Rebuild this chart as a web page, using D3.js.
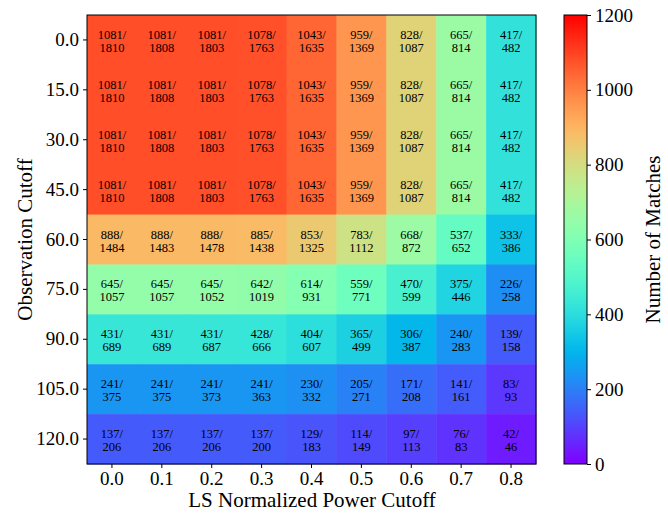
<!DOCTYPE html>
<html>
<head>
<meta charset="utf-8">
<script src="https://cdn.jsdelivr.net/npm/d3@7"></script>
<style>
  body { margin: 0; background: #fff; }
  svg text { font-family: "Liberation Serif", "DejaVu Serif", serif; fill: #000; }
</style>
</head>
<body>
<script>
// LS cutoffs (columns) and observation cutoffs (rows)
const lsCutoffs = ["0.0", "0.1", "0.2", "0.3", "0.4", "0.5", "0.6", "0.7", "0.8"];
const obsCutoffs = ["0.0", "15.0", "30.0", "45.0", "60.0", "75.0", "90.0", "105.0", "120.0"];

// matches / total, one array per row
const matches = [
    [1081, 1081, 1081, 1078, 1043, 959, 828, 665, 417],
    [1081, 1081, 1081, 1078, 1043, 959, 828, 665, 417],
    [1081, 1081, 1081, 1078, 1043, 959, 828, 665, 417],
    [1081, 1081, 1081, 1078, 1043, 959, 828, 665, 417],
    [888, 888, 888, 885, 853, 783, 668, 537, 333],
    [645, 645, 645, 642, 614, 559, 470, 375, 226],
    [431, 431, 431, 428, 404, 365, 306, 240, 139],
    [241, 241, 241, 241, 230, 205, 171, 141, 83],
    [137, 137, 137, 137, 129, 114, 97, 76, 42]
];
const totals = [
    [1810, 1808, 1803, 1763, 1635, 1369, 1087, 814, 482],
    [1810, 1808, 1803, 1763, 1635, 1369, 1087, 814, 482],
    [1810, 1808, 1803, 1763, 1635, 1369, 1087, 814, 482],
    [1810, 1808, 1803, 1763, 1635, 1369, 1087, 814, 482],
    [1484, 1483, 1478, 1438, 1325, 1112, 872, 652, 386],
    [1057, 1057, 1052, 1019, 931, 771, 599, 446, 258],
    [689, 689, 687, 666, 607, 499, 387, 283, 158],
    [375, 375, 373, 363, 332, 271, 208, 161, 93],
    [206, 206, 206, 200, 183, 149, 113, 83, 46]
];
const colorTicks = [0, 200, 400, 600, 800, 1000, 1200];

// matplotlib "rainbow"
function rainbow(t) {
    const r = Math.min(1, Math.abs(2 * t - 0.5));
    const g = Math.sin(Math.PI * t);
    const b = Math.cos(Math.PI * t / 2);
    return d3.rgb(r * 255, g * 255, b * 255).formatHex();
}

const W = 668, H = 514;
const plotLeft = 87, plotTop = 15, size = 449;
const serif = "'Liberation Serif', 'DejaVu Serif', serif";

const svg = d3.select("body").append("svg")
    .attr("width", W)
    .attr("height", H);

const x = d3.scaleBand().domain(lsCutoffs).range([plotLeft, plotLeft + size]);
const y = d3.scaleBand().domain(obsCutoffs).range([plotTop, plotTop + size]);
const colorNorm = d3.scaleLinear().domain([0, 1200]).range([0, 1]).clamp(true);

const cells = [];
obsCutoffs.forEach((o, i) => {
    lsCutoffs.forEach((l, j) => {
        cells.push({ obs: o, ls: l, m: matches[i][j], t: totals[i][j] });
    });
});

svg.append("g").selectAll("rect")
    .data(cells)
    .enter()
    .append("rect")
        .attr("x", d => x(d.ls))
        .attr("y", d => y(d.obs))
        .attr("width", x.bandwidth() + 0.5)
        .attr("height", y.bandwidth() + 0.5)
        .attr("fill", d => rainbow(colorNorm(d.m)));

const labels = svg.append("g").selectAll("text")
    .data(cells)
    .enter()
    .append("text")
        .attr("text-anchor", "middle")
        .style("font-size", "12.5px");
labels.append("tspan")
    .attr("x", d => x(d.ls) + x.bandwidth() / 2)
    .attr("y", d => y(d.obs) + y.bandwidth() / 2 - 1)
    .text(d => d.m + "/");
labels.append("tspan")
    .attr("x", d => x(d.ls) + x.bandwidth() / 2)
    .attr("y", d => y(d.obs) + y.bandwidth() / 2 + 12)
    .text(d => d.t);

// frame
svg.append("rect")
    .attr("x", plotLeft).attr("y", plotTop)
    .attr("width", size).attr("height", size)
    .attr("fill", "none").attr("stroke", "#000").attr("stroke-width", 1);

const xAxis = svg.append("g")
    .attr("transform", "translate(0," + (plotTop + size) + ")")
    .call(d3.axisBottom(x).tickSize(4).tickPadding(4));
const yAxis = svg.append("g")
    .attr("transform", "translate(" + plotLeft + ",0)")
    .call(d3.axisLeft(y).tickSize(4).tickPadding(4));
[xAxis, yAxis].forEach(a => {
    a.attr("font-family", null);
    a.select(".domain").remove();
    a.selectAll("text").style("font-size", "19px").style("font-family", serif);
});

svg.append("text")
    .attr("x", 312)
    .attr("y", 507)
    .attr("text-anchor", "middle")
    .style("font-size", "21px")
    .text("LS Normalized Power Cutoff");

svg.append("text")
    .attr("transform", "translate(32," + (plotTop + size / 2) + ") rotate(-90)")
    .attr("text-anchor", "middle")
    .style("font-size", "21px")
    .text("Observation Cutoff");

// colorbar
const cbLeft = 564, cbW = 23;
const cy = d3.scaleLinear().domain([0, 1200]).range([plotTop + size, plotTop]);
const defs = svg.append("defs");
const grad = defs.append("linearGradient")
    .attr("id", "cbgrad")
    .attr("x1", 0).attr("y1", 1).attr("x2", 0).attr("y2", 0);
d3.range(0, 1.0001, 0.02).forEach(t => {
    grad.append("stop").attr("offset", t).attr("stop-color", rainbow(t));
});
svg.append("rect")
    .attr("x", cbLeft).attr("y", plotTop)
    .attr("width", cbW).attr("height", size)
    .attr("fill", "url(#cbgrad)")
    .attr("stroke", "#000").attr("stroke-width", 1);

const cAxis = svg.append("g")
    .attr("transform", "translate(" + (cbLeft + cbW) + ",0)")
    .call(d3.axisRight(cy).tickValues(colorTicks).tickFormat(d3.format("d")).tickSize(4).tickPadding(4));
cAxis.attr("font-family", null);
cAxis.select(".domain").remove();
cAxis.selectAll("text").style("font-size", "19px").style("font-family", serif);

svg.append("text")
    .attr("transform", "translate(660," + (plotTop + size / 2) + ") rotate(-90)")
    .attr("text-anchor", "middle")
    .style("font-size", "21px")
    .text("Number of Matches");
</script>
</body>
</html>
